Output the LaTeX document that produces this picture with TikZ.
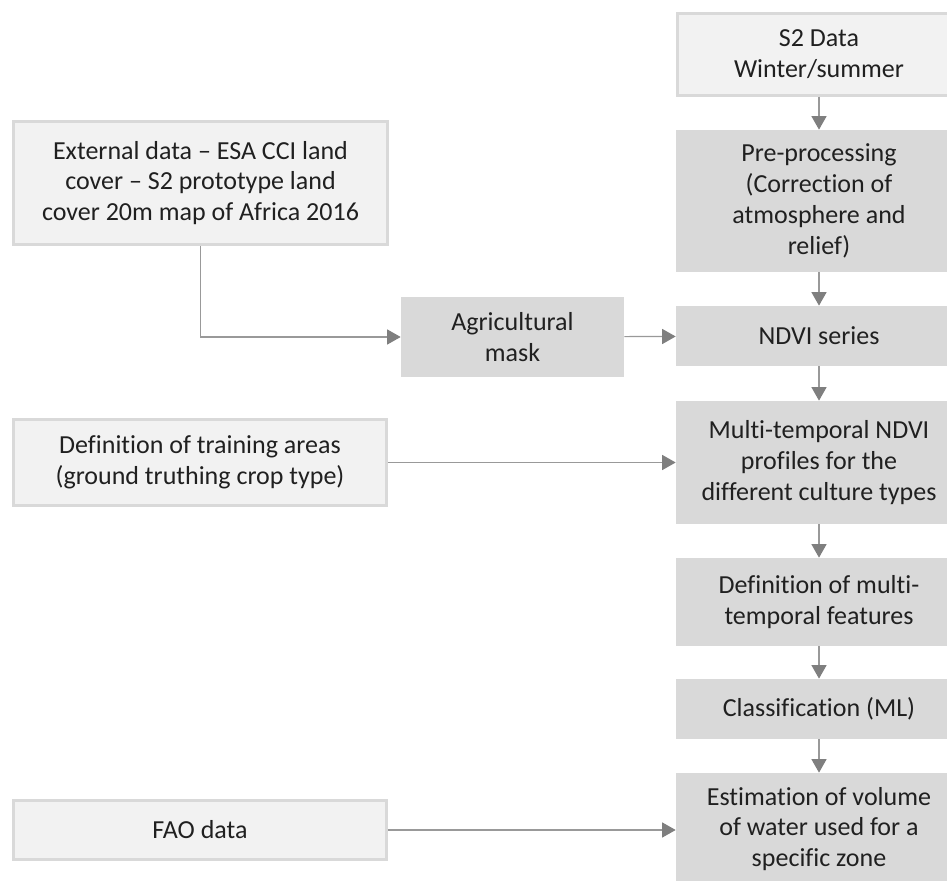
\documentclass[tikz,border=0pt]{standalone}
\usepackage{fontspec}
\setmainfont[Ligatures={TeX,NoCommon}]{Carlito}
\usepackage{tikz}
\usetikzlibrary{arrows.meta,positioning}
\usepackage{xcolor}
\definecolor{boxlight}{HTML}{F2F2F2}
\definecolor{boxdark}{HTML}{D9D9D9}
\definecolor{linegray}{HTML}{999999}
\definecolor{headgray}{HTML}{7F7F7F}
\definecolor{txtgray}{HTML}{202020}

\begin{document}
\begin{tikzpicture}[
    x=0.02cm, y=-0.02cm,
    box/.style={minimum width=5.72cm, align=center, inner sep=0pt, text=txtgray, font=\fontsize{14.8}{17.6}\selectfont},
    input/.style={box, fill=boxlight, draw=boxdark, line width=0.06cm},
    process/.style={box, fill=boxdark},
    arrow/.style={-{Triangle[length=0.27cm, width=0.3cm, color=headgray, fill=headgray]}, draw=linegray, line width=0.7pt}
  ]
  \useasboundingbox (0,0) rectangle (947,881);

  % Main processing chain
  \node[input, minimum width=5.66cm, minimum height=1.64cm] (s2) at (819,54.5) {S2 Data\\Winter/summer};
  \node[process, minimum height=2.84cm] (preproc) at (819,201) {Pre-processing\\(Correction of\\atmosphere and\\relief)};
  \node[process, minimum height=1.2cm] (ndvi) at (819,336) {NDVI series};
  \node[process, minimum height=2.46cm] (profiles) at (819,462.5) {Multi-temporal NDVI\\profiles for the\\different culture types};
  \node[process, minimum height=1.76cm] (features) at (819,602) {Definition of multi-\\temporal features};
  \node[process, minimum height=1.2cm] (classif) at (819,709) {Classification (ML)};
  \node[process, minimum height=2.24cm] (volume) at (819,829) {Estimation of volume\\of water used for a\\specific zone};

  % Side inputs
  \node[input, minimum width=7.48cm, minimum height=2.46cm] (external) at (200.5,183) {External data -- ESA CCI land\\cover -- S2 prototype land\\cover 20m map of Africa 2016};
  \node[process, minimum width=4.46cm, minimum height=1.6cm] (mask) at (512.5,337) {Agricultural\\mask};
  \node[input, minimum width=7.46cm, minimum height=1.72cm] (training) at (200,462.5) {Definition of training areas\\(ground truthing crop type)};
  \node[input, minimum width=7.46cm, minimum height=1.2cm] (fao) at (200,830) {FAO data};

  % Connections
  \draw[arrow] (s2) -- (preproc);
  \draw[arrow] (preproc) -- (ndvi);
  \draw[arrow] (ndvi) -- (profiles);
  \draw[arrow] (profiles) -- (features);
  \draw[arrow] (features) -- (classif);
  \draw[arrow] (classif) -- (volume);

  \draw[arrow] (external) |- (mask);
  \draw[arrow] (mask) -- (ndvi);
  \draw[arrow] (training) -- (training -| profiles.west);
  \draw[arrow] (fao) -- (fao -| volume.west);

\end{tikzpicture}
\end{document}
